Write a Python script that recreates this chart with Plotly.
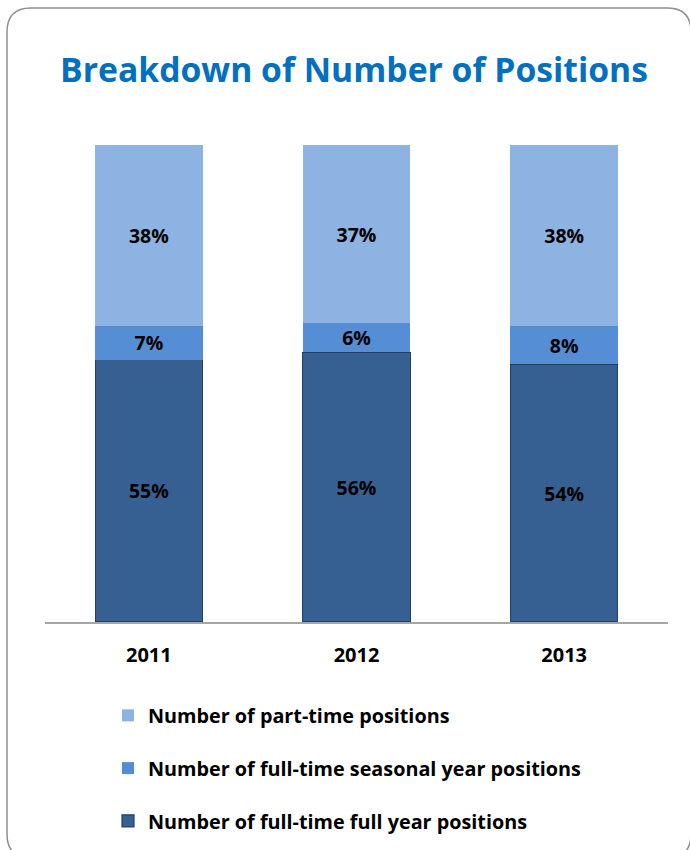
import plotly.graph_objects as go

# Share of positions by type, per year (percent of total)
years = ["2011", "2012", "2013"]
full_year = [55, 56, 54]
seasonal = [7, 6, 8]
part_time = [38, 37, 38]

series_names = [
    "Number of full-time full year positions",
    "Number of full-time seasonal year positions",
    "Number of part-time positions",
]
series_values = [full_year, seasonal, part_time]
series_colors = ["#376092", "#558ED5", "#8DB3E2"]
series_lines = ["#233f64", "rgba(0,0,0,0)", "rgba(0,0,0,0)"]
legend_ranks = [3, 2, 1]

W, H = 690, 850
ML, MR, MT, MB = 45, 22, 145, 228
PW, PH = W - ML - MR, H - MT - MB

FONT = "'Open Sans', Lato, sans-serif"

fig = go.Figure()
for i, (name, vals, col, lc, rk) in enumerate(
        zip(series_names, series_values, series_colors, series_lines, legend_ranks)):
    fig.add_trace(go.Bar(
        x=years, y=vals, name=name,
        marker=dict(color=col, line=dict(color=lc, width=1.2)),
        text=[f"{v}%" for v in vals],
        textposition="inside", insidetextanchor="middle", textangle=0,
        constraintext="none",
        textfont=dict(family=FONT, size=19.5, color="#000000", weight="bold"),
        legendgroup=f"g{i}", legendrank=rk,
        hoverinfo="skip",
    ))


def px_to_paper(x, y):
    return (x - ML) / PW, (H - MB - y) / PH


# Rounded outer frame, defined in pixels and converted to paper coordinates
L, T, R, B, rad = 7, 8, 691, 858, 24
pts = [
    ("M", (L + rad, T)), ("L", (R - rad, T)), ("Q", (R, T), (R, T + rad)),
    ("L", (R, B - rad)), ("Q", (R, B), (R - rad, B)),
    ("L", (L + rad, B)), ("Q", (L, B), (L, B - rad)),
    ("L", (L, T + rad)), ("Q", (L, T), (L + rad, T)),
]
path = ""
for seg in pts:
    cmd = seg[0]
    coords = " ".join("%.5f,%.5f" % px_to_paper(*p) for p in seg[1:])
    path += f"{cmd} {coords} "
path += "Z"

fig.add_shape(type="path", path=path, xref="paper", yref="paper",
              line=dict(color="#8f8f8f", width=1.5), layer="below")

lx, ly = px_to_paper(108, 696)

fig.update_layout(
    width=W, height=H,
    margin=dict(l=ML, r=MR, t=MT, b=MB, autoexpand=False),
    paper_bgcolor="white", plot_bgcolor="white",
    barmode="stack", barnorm="percent", bargap=0.483,
    title=dict(
        text="Breakdown of Number of Positions",
        font=dict(family=FONT, size=33.7, color="#0070C0", weight="bold"),
        x=354 / W, xanchor="center", xref="container",
        y=1 - 70 / H, yanchor="middle", yref="container",
    ),
    xaxis=dict(
        showline=True, linecolor="#a6a6a6", linewidth=1.5,
        ticks="", showgrid=False, ticklabelstandoff=14,
        tickfont=dict(family=FONT, size=20, color="#000000", weight="bold"),
    ),
    yaxis=dict(range=[0, 100], visible=False, showgrid=False),
    showlegend=True,
    legend=dict(
        x=lx, y=ly, xanchor="left", yanchor="top",
        traceorder="grouped", tracegroupgap=24,
        font=dict(family=FONT, size=19.8, color="#000000", weight="bold"),
        bgcolor="rgba(0,0,0,0)",
    ),
    uniformtext=dict(minsize=19, mode="show"),
)

fig.write_html("out.html")
